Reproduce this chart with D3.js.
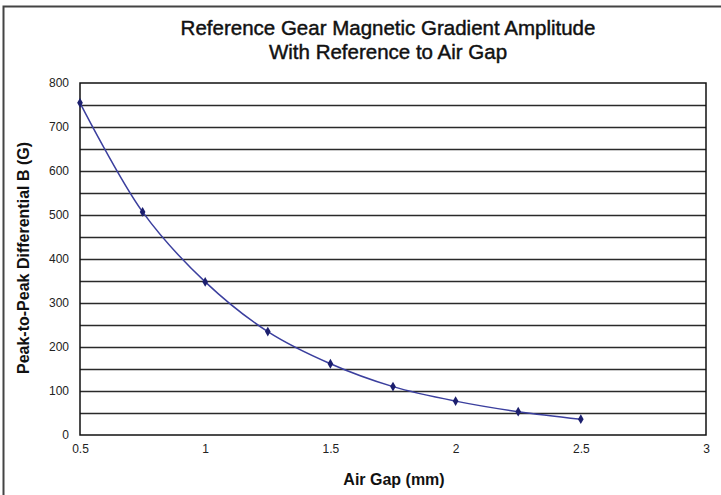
<!DOCTYPE html>
<html>
<head>
<meta charset="utf-8">
<script src="https://cdn.jsdelivr.net/npm/d3@7"></script>
<style>
  body { margin: 0; background: #fff; }
  text { font-family: "Liberation Sans", Arial, sans-serif; fill: #111; }
</style>
</head>
<body>
<svg id="chart" width="721" height="495"></svg>
<script>
// air gap (mm) vs peak-to-peak differential (G)
var airGap = [0.5, 0.75, 1.0, 1.25, 1.5, 1.75, 2.0, 2.25, 2.5];
var peakB  = [755, 507, 348, 235, 162, 110, 77, 53, 36];
var xTicks = [0.5, 1, 1.5, 2, 2.5, 3];
var yTicks = [0, 100, 200, 300, 400, 500, 600, 700, 800];
var gridValues = d3.range(50, 800, 50);

var margin = {top: 83, right: 15, bottom: 60, left: 80},
    width = 721 - margin.left - margin.right,
    height = 495 - margin.top - margin.bottom;

var svg = d3.select("#chart");

// outer frame (only left and top edges visible)
svg.append("path")
  .attr("d", "M3.5,495 V6.5 H721")
  .attr("fill", "none")
  .attr("stroke", "#444")
  .attr("stroke-width", 2);

var x = d3.scaleLinear().domain([0.5, 3]).range([0, width]);
var y = d3.scaleLinear().domain([0, 800]).range([height, 0]);

var g = svg.append("g")
  .attr("transform", "translate(" + margin.left + "," + margin.top + ")");

// horizontal gridlines
g.selectAll(".grid")
  .data(gridValues)
.enter().append("line")
  .attr("class", "grid")
  .attr("x1", 0)
  .attr("x2", width)
  .attr("y1", function(d) { return Math.round(y(d)) + 0.5; })
  .attr("y2", function(d) { return Math.round(y(d)) + 0.5; })
  .attr("stroke", "#2a2a2a")
  .attr("stroke-width", 1.6);

// plot border
g.append("rect")
  .attr("x", 0)
  .attr("y", 0)
  .attr("width", width)
  .attr("height", height)
  .attr("fill", "none")
  .attr("stroke", "#111")
  .attr("stroke-width", 1.5);

// axes (labels only, border drawn above)
var xAxis = g.append("g")
  .attr("transform", "translate(0," + height + ")")
  .call(d3.axisBottom(x).tickValues(xTicks).tickSize(0).tickPadding(9)
    .tickFormat(function(d) { return d; }));
xAxis.select(".domain").remove();
xAxis.selectAll("text").style("font-size", "12px").style("fill", "#222");

var yAxis = g.append("g")
  .call(d3.axisLeft(y).tickValues(yTicks).tickSize(0).tickPadding(11));
yAxis.select(".domain").remove();
yAxis.selectAll("text").style("font-size", "12px").style("fill", "#222");

// series line
var line = d3.line()
  .x(function(d, i) { return x(airGap[i]); })
  .y(function(d) { return y(d); })
  .curve(d3.curveCatmullRom);

g.append("path")
  .datum(peakB)
  .attr("d", line)
  .attr("fill", "none")
  .attr("stroke", "#3b3f9e")
  .attr("stroke-width", 1.5);

g.selectAll(".pt")
  .data(peakB)
.enter().append("path")
  .attr("class", "pt")
  .attr("d", d3.symbol().type(d3.symbolDiamond).size(28))
  .attr("transform", function(d, i) { return "translate(" + x(airGap[i]) + "," + y(d) + ")"; })
  .attr("fill", "#1c1f6e");

// titles
var title = svg.append("g")
  .style("text-anchor", "middle")
  .style("font-size", "20.5px")
  .style("stroke", "#111")
  .style("stroke-width", "0.45px")
  .attr("transform", "translate(388,0)");

title.append("text")
  .attr("y", 35)
  .text("Reference Gear Magnetic Gradient Amplitude");

title.append("text")
  .attr("y", 59)
  .text("With Reference to Air Gap");

svg.append("text")
  .attr("x", 394)
  .attr("y", 485)
  .style("text-anchor", "middle")
  .style("font-size", "16px")
  .style("font-weight", "bold")
  .text("Air Gap (mm)");

svg.append("text")
  .attr("transform", "translate(29,258) rotate(-90)")
  .style("text-anchor", "middle")
  .style("font-size", "16px")
  .style("font-weight", "bold")
  .text("Peak-to-Peak Differential B (G)");
</script>
</body>
</html>
